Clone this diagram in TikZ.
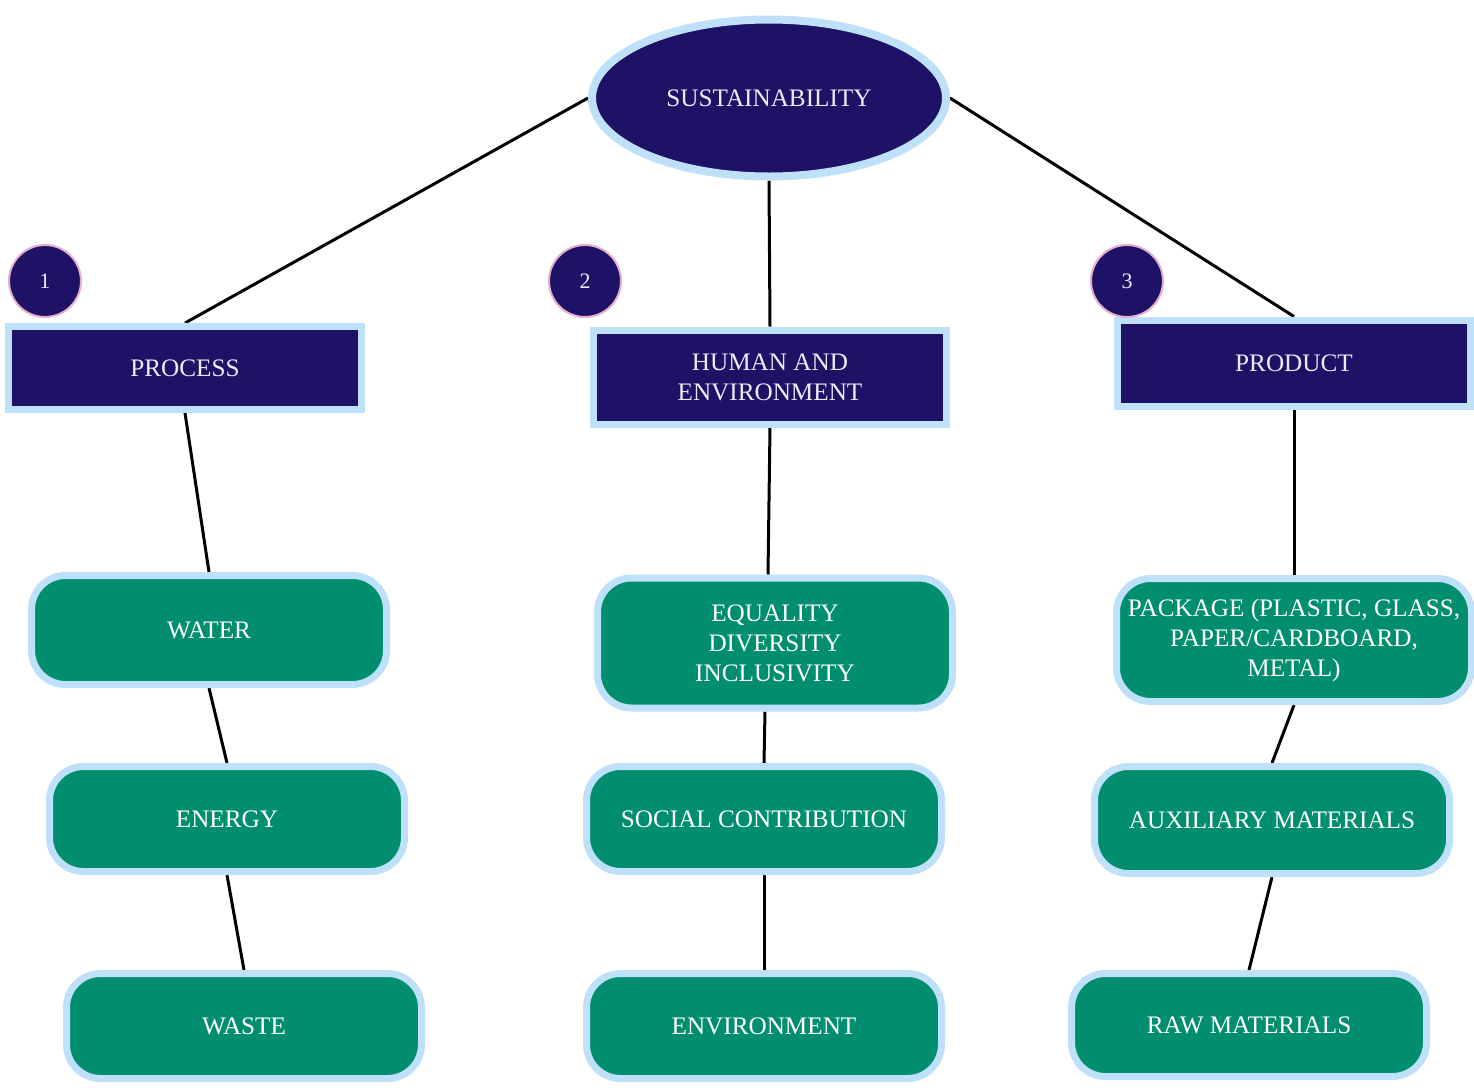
\documentclass[tikz,border=0pt]{standalone}
\usepackage{fontspec}
\setmainfont{Liberation Serif}
\usetikzlibrary{shapes.geometric,backgrounds}
\definecolor{navy}{HTML}{1E1266}
\definecolor{leaf}{HTML}{008E6E}
\definecolor{halo}{HTML}{BEE0F8}
\definecolor{blush}{HTML}{E6AECB}
\definecolor{paper}{HTML}{EEEAFB}

\begin{document}
\begin{tikzpicture}[
  x=0.5pt, y=-0.5pt,
  font=\fontsize{12.6}{15}\selectfont,
  hub/.style={ellipse, draw=halo, line width=4pt, fill=navy, text=paper, minimum width=177pt, minimum height=78.5pt},
  pillar/.style={rectangle, draw=halo, line width=3.5pt, fill=navy, text=paper, align=center, minimum width=176.5pt, minimum height=41.5pt},
  item/.style={rectangle, rounded corners=17pt, draw=halo, line width=3.5pt, fill=leaf, text=white, align=center, minimum width=177.5pt, minimum height=52.5pt, inner sep=2pt},
  badge/.style={circle, draw=blush, line width=1pt, fill=navy, text=paper, minimum size=36pt, inner sep=0pt, font=\fontsize{11}{12}\selectfont},
  link/.style={draw=black, line width=1.5pt}
]
\useasboundingbox (0,0) rectangle (1474,1088);

\node[hub] (sus) at (769,98) {SUSTAINABILITY};

\node[pillar] (proc) at (185,368) {PROCESS};
\node[pillar, minimum height=47pt] (human) at (770,377) {HUMAN AND\\ENVIRONMENT};
\node[pillar, minimum height=43pt] (prod) at (1294,363) {PRODUCT};

\node[badge] (b1) at (45,281) {1};
\node[badge] (b2) at (585,281) {2};
\node[badge] (b3) at (1127,281) {3};

% process branch
\node[item, minimum height=54.5pt] (water) at (209,630) {WATER};
\node[item] (energy) at (227,819) {ENERGY};
\node[item] (waste) at (244,1026) {WASTE};

% human and environment branch
\node[item, minimum height=65pt] (equal) at (775,643) {EQUALITY\\DIVERSITY\\INCLUSIVITY};
\node[item] (social) at (764,819) {SOCIAL CONTRIBUTION};
\node[item] (envir) at (764,1026) {ENVIRONMENT};

% product branch
\node[item, minimum height=61.5pt] (pack) at (1294,640) {PACKAGE (PLASTIC, GLASS,\\PAPER/CARDBOARD,\\METAL)};
\node[item, minimum height=53.5pt] (aux) at (1272,820) {AUXILIARY MATERIALS};
\node[item, minimum height=51.5pt] (raw) at (1249,1025) {RAW MATERIALS};

\begin{scope}[on background layer]
  \draw[link] (sus.west) -- (proc.north);
  \draw[link] (sus.south) -- (human.north);
  \draw[link] (sus.east) -- (prod.north);
  \draw[link] (human.south) -- ([xshift=-3.5pt]equal.north);
  \draw[link] ([xshift=-5pt]equal.south) -- (social.north);
  \foreach \a/\b in {proc/water, water/energy, energy/waste,
                     social/envir, prod/pack, pack/aux, aux/raw}
    \draw[link] (\a.south) -- (\b.north);
\end{scope}
\end{tikzpicture}
\end{document}
